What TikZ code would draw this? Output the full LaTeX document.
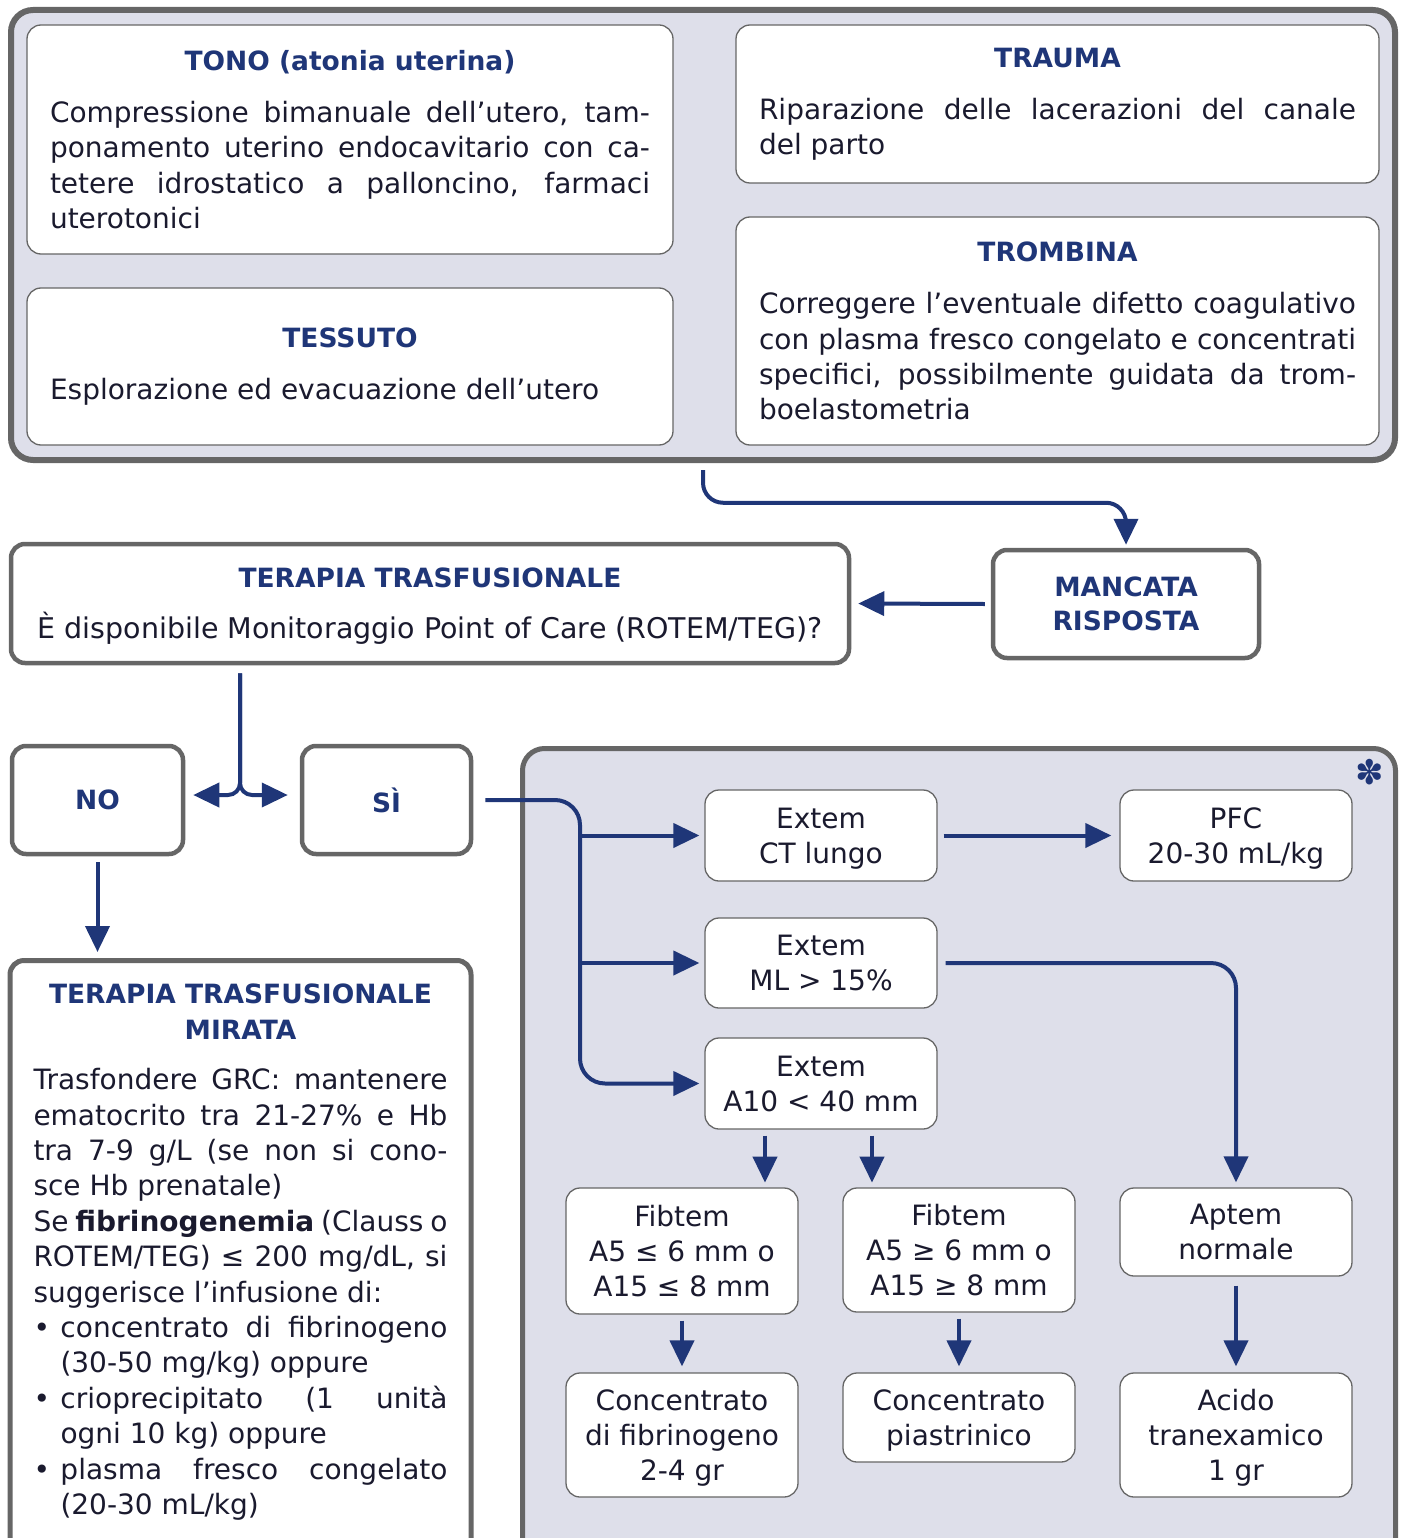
\documentclass[tikz,border=0pt]{standalone}
\usepackage{fontspec}
\setmainfont{DejaVu Sans}
\usepackage{tikz}
\usetikzlibrary{arrows.meta, calc}

\definecolor{navy}{RGB}{31,54,120}
\definecolor{lavender}{RGB}{222,223,234}
\definecolor{frame}{RGB}{102,102,102}
\definecolor{ink}{RGB}{26,26,46}

\setlength{\parindent}{0pt}
\newcommand{\bodyfont}{\fontsize{28}{35.2}\selectfont}
\newcommand{\ttl}[1]{{\color{navy}\fontsize{26.5}{35}\selectfont\bfseries #1}}
\newcommand{\hdr}[1]{{\centering\ttl{#1}\par}\vspace{17pt}}
\newcommand{\bul}{\par\hangindent=27pt\hangafter=1\makebox[27pt][l]{•}}

\tikzset{
	panel/.style={draw=frame, fill=lavender, line width=6pt, rounded corners=22pt, inner sep=0pt},
	infobox/.style={draw=frame, fill=white, line width=1.3pt, rounded corners=14pt, text=ink, align=justify, inner sep=0pt},
	keybox/.style={draw=frame, fill=white, line width=4.5pt, rounded corners=14pt, text=navy, align=center, inner sep=0pt},
	valbox/.style={draw=frame, fill=white, line width=1.3pt, rounded corners=14pt, text=ink, align=center, inner sep=0pt, text depth=0pt, minimum width=232pt},
	arr/.style={draw=navy, line width=4pt, -{Triangle[length=26pt,width=24pt]}},
}

\begin{document}
\begin{tikzpicture}[x=1pt, y=-1pt, font=\bodyfont]
	\useasboundingbox (0,0) rectangle (1405,1538);

	% upper panel: the four T
	\node[panel, minimum width=1384pt, minimum height=450pt] (toppanel) at (703,235) {};
	\node[infobox, text width=600pt, minimum width=646pt, minimum height=229pt] (tono) at (350,139.5)
		{\hdr{TONO (atonia uterina)}Compressione bimanuale dell’utero, tam-\linebreak ponamento uterino endocavitario con ca-\linebreak tetere idrostatico a palloncino, farmaci\linebreak uterotonici};
	\node[infobox, text width=597pt, minimum width=643pt, minimum height=158pt] (trauma) at (1057.5,104)
		{\hdr{TRAUMA}Riparazione delle lacerazioni del canale\linebreak del parto};
	\node[infobox, text width=600pt, minimum width=646pt, minimum height=157pt] (tessuto) at (350,366.5)
		{\hdr{TESSUTO}Esplorazione ed evacuazione dell’utero};
	\node[infobox, text width=597pt, minimum width=643pt, minimum height=228pt] (trombina) at (1057.5,331)
		{\hdr{TROMBINA}Correggere l’eventuale difetto coagulativo\linebreak con plasma fresco congelato e concentrati\linebreak specifici, possibilmente guidata da trom-\linebreak boelastometria};

	% middle row
	\node[keybox, minimum width=266pt, minimum height=108pt] (mancata) at (1126,604)
		{\ttl{MANCATA}\\[-1pt]\ttl{RISPOSTA}};
	\node[keybox, text=ink, text depth=0pt, minimum width=838pt, minimum height=119pt] (terapia) at (430,603.5)
		{\ttl{TERAPIA TRASFUSIONALE}\\[16pt]{\fontsize{28.5}{35}\selectfont È disponibile Monitoraggio Point of Care (ROTEM/TEG)?}};
	\node[keybox, minimum width=171pt, minimum height=108pt] (no) at (97.5,800) {\ttl{NO}};
	\node[keybox, minimum width=169pt, minimum height=108pt] (si) at (386.5,800) {\ttl{SÌ}};
	\coordinate (split) at (240,795);

	% left column
	\node[keybox, line width=5pt, minimum width=461pt, minimum height=620pt, anchor=north] (mirata) at (240.5,958) {};
	\node[text=ink, text width=414pt, align=justify, inner sep=0pt, anchor=north,
		font=\fontsize{28}{35.4}\selectfont] (miratatext) at (240.5,984)
		{{\centering\ttl{TERAPIA TRASFUSIONALE\\MIRATA}\par}\vspace{15pt}%
		Trasfondere GRC: mantenere\linebreak ematocrito tra 21-27\% e Hb\linebreak tra 7-9 g/L (se non si cono-\linebreak sce Hb prenatale)\par
		Se \textbf{fibrinogenemia} (Clauss o\linebreak ROTEM/TEG) ≤ 200 mg/dL, si\linebreak suggerisce l’infusione di:
		\bul concentrato di fibrinogeno\linebreak (30-50 mg/kg) oppure
		\bul crioprecipitato (1 unità\linebreak ogni 10 kg) oppure
		\bul plasma fresco congelato\linebreak (20-30 mL/kg)\par};

	% right panel: Point of Care
	\node[panel, line width=5pt, minimum width=873pt, minimum height=830pt, anchor=north] (lowpanel) at (959,746) {};
	\node[text=navy, font=\fontsize{34}{34}\selectfont, inner sep=0pt] (star) at (1370,772) {✽};
	\node[valbox, minimum height=91pt] (ctlungo) at (821,835.5) {Extem\\CT lungo};
	\node[valbox, minimum height=90pt] (mlbox) at (821,963) {Extem\\ML > 15\%};
	\node[valbox, minimum height=91pt] (a10) at (821,1083.5) {Extem\\A10 < 40 mm};
	\node[valbox, minimum height=91pt] (pfc) at (1236,835.5) {PFC\\20-30 mL/kg};
	\node[valbox, minimum height=88pt] (aptem) at (1236,1232) {Aptem\\normale};
	\node[valbox, minimum height=126pt] (fiba) at (682,1251) {Fibtem\\A5 ≤ 6 mm o\\A15 ≤ 8 mm};
	\node[valbox, minimum height=124pt] (fibb) at (959,1250) {Fibtem\\A5 ≥ 6 mm o\\A15 ≥ 8 mm};
	\node[valbox, minimum height=124pt] (concfib) at (682,1435) {Concentrato\\di fibrinogeno\\2-4 gr};
	\node[valbox, minimum height=89pt] (concpia) at (959,1417.5) {Concentrato\\piastrinico};
	\node[valbox, minimum height=124pt] (acido) at (1236,1435) {Acido\\tranexamico\\1 gr};
	\coordinate (trunk) at (580,0);

	% connectors
	\draw[arr, rounded corners=20pt] ([yshift=-7pt]toppanel.south) |- ([yshift=45pt]mancata.north) -- ([yshift=3pt]mancata.north);
	\draw[arr] ([xshift=-6pt]mancata.west) -- ([xshift=7pt]terapia.east);
	\draw[arr, rounded corners=12pt] ([yshift=-8pt]terapia.south -| split) -- (split) -- ([xshift=8pt]no.east |- split);
	\draw[arr, rounded corners=12pt] ([yshift=-8pt]terapia.south -| split) -- (split) -- ([xshift=-12pt]si.west |- split);
	\draw[arr] ([yshift=-6pt]no.south) -- ($(no.south |- mirata.north)+(0,-6)$);
	\draw[arr, rounded corners=25pt] ([xshift=12pt]si.east) -- (si.east -| trunk) -- (a10.west -| trunk) -- ([xshift=-5pt]a10.west);
	\draw[arr] (ctlungo.west -| trunk) -- ([xshift=-5pt]ctlungo.west);
	\draw[arr] (mlbox.west -| trunk) -- ([xshift=-5pt]mlbox.west);
	\draw[arr] ([xshift=6pt]ctlungo.east) -- ([xshift=-8pt]pfc.west);
	\draw[arr, rounded corners=25pt] ([xshift=8pt]mlbox.east) -| ([yshift=5pt]aptem.north);
	\draw[arr] ($(a10.south)+(-56,6)$) -- ($(a10.south)+(-56,53)$);
	\draw[arr] ($(a10.south)+(51,6)$) -- ($(a10.south)+(51,53)$);
	\draw[arr] ([yshift=-6pt]fiba.south) -- ([yshift=6pt]concfib.north);
	\draw[arr] ([yshift=-6pt]fibb.south) -- ([yshift=6pt]concpia.north);
	\draw[arr] ([yshift=-9pt]aptem.south) -- ([yshift=6pt]acido.north);
\end{tikzpicture}
\end{document}
